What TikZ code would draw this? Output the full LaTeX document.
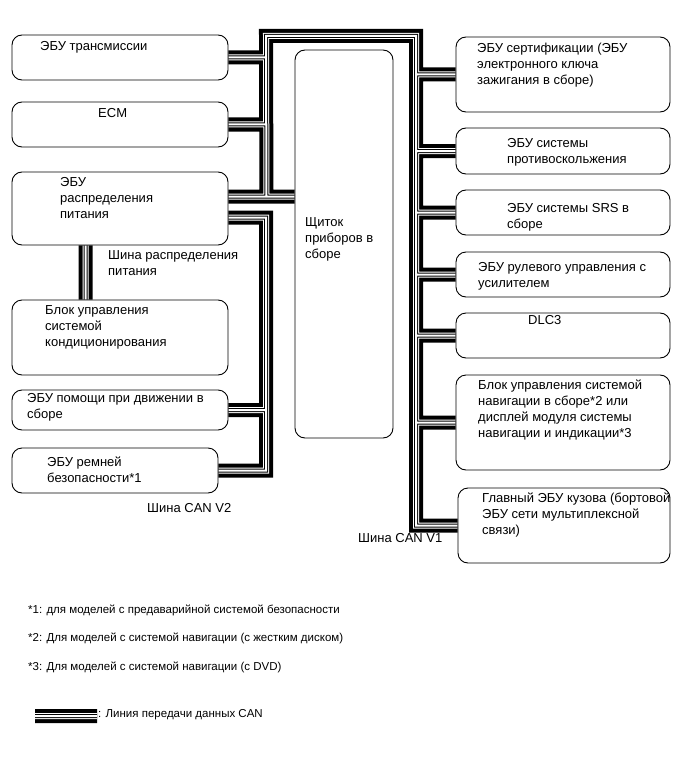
\documentclass[tikz,border=0pt]{standalone}
\usepackage{fontspec}
\setmainfont{Liberation Sans}
\usetikzlibrary{calc}
\pgfdeclarelayer{bus}
\pgfsetlayers{bus,main}
\tikzset{
  ecu/.style={draw, rounded corners=10pt, line width=0.9pt, inner sep=0pt},
  txt/.style={anchor=base west, inner sep=0pt, align=left, font=\fontsize{13}{16}\selectfont},
  note/.style={anchor=base west, inner sep=0pt, font=\fontsize{11.5}{13}\selectfont},
}
\newcommand{\canbus}{
  (pw1) -- (pw1 -| meter.west)
  (lb) -- (lt) -- (rt) -- (rb) -- (body.west)
  (trans.east) -- (trans.east -| lt)
  (ecm.east) -- (ecm.east -| lt)
  (pw2) -- (pw2 -| lt) -- (belt.east -| lt) -- (belt.east)
  (assist.east) -- (assist.east -| lt)
  (cert.west) -- (cert.west -| rt)
  (skid.west) -- (skid.west -| rt)
  (srs.west) -- (srs.west -| rt)
  (steer.west) -- (steer.west -| rt)
  (dlc.west) -- (dlc.west -| rt)
  (nav.west) -- (nav.west -| rt)
  (power.south -| pb) -- (ac.north -| pb)
  (lg1) -- (lg2)
}
\begin{document}
\begin{tikzpicture}[x=1pt, y=-1pt]
\useasboundingbox (0,0) rectangle (691,757);

\node[ecu, minimum width=216pt, minimum height=45pt] (trans) at (120,57.5) {};
\node[ecu, minimum width=216pt, minimum height=45pt] (ecm) at (120,124.5) {};
\node[ecu, minimum width=216pt, minimum height=73pt] (power) at (120,208.5) {};
\node[ecu, minimum width=216pt, minimum height=75pt] (ac) at (120,337.5) {};
\node[ecu, minimum width=216pt, minimum height=40pt] (assist) at (120,410) {};
\node[ecu, minimum width=206pt, minimum height=45pt] (belt) at (115,470.5) {};
\node[ecu, minimum width=98pt, minimum height=388pt] (meter) at (344,244) {};
\node[ecu, minimum width=214pt, minimum height=75pt] (cert) at (563,74.5) {};
\node[ecu, minimum width=214pt, minimum height=46pt] (skid) at (563,151) {};
\node[ecu, minimum width=214pt, minimum height=45pt] (srs) at (563,212.5) {};
\node[ecu, minimum width=214pt, minimum height=45pt] (steer) at (563,274.5) {};
\node[ecu, minimum width=214pt, minimum height=45pt] (dlc) at (563,335.5) {};
\node[ecu, minimum width=214pt, minimum height=95pt] (nav) at (563,422.5) {};
\node[ecu, minimum width=212pt, minimum height=75pt] (body) at (564,525.5) {};

\node[txt] (transtxt) at (40,50.5) {ЭБУ трансмиссии};
\node[txt] (ecmtxt) at (98,117.5) {ECM};
\node[txt] (powertxt) at (60,218) {ЭБУ\\распределения\\питания};
\node[txt] (actxt) at (45,346.5) {Блок управления\\системой\\кондиционирования};
\node[txt] (assisttxt) at (27,418.5) {ЭБУ помощи при движении в\\сборе};
\node[txt] (belttxt) at (47,482) {ЭБУ ремней\\безопасности*1};
\node[txt] (metertxt) at (305,258.5) {Щиток\\приборов в\\сборе};
\node[txt] (certtxt) at (477,84.5) {ЭБУ сертификации (ЭБУ\\электронного ключа\\зажигания в сборе)};
\node[txt] (skidtxt) at (507,163.5) {ЭБУ системы\\противоскольжения};
\node[txt] (srstxt) at (507,228.5) {ЭБУ системы SRS в\\сборе};
\node[txt] (steertxt) at (478,287.5) {ЭБУ рулевого управления с\\усилителем};
\node[txt] (dlctxt) at (528,324.5) {DLC3};
\node[txt] (navtxt) at (478,437.5) {Блок управления системой\\навигации в сборе*2 или\\дисплей модуля системы\\навигации и индикации*3};
\node[txt] (bodytxt) at (482,534.5) {Главный ЭБУ кузова (бортовой\\ЭБУ сети мультиплексной\\связи)};

\node[txt] (pwrbus) at (108,275.5) {Шина распределения\\питания};
\node[txt] (v2) at (147,512.5) {Шина CAN V2};
\node[txt] (v1) at (358,542.5) {Шина CAN V1};

\node[note] (note1) at (28,613.5) {*1: для моделей с предаварийной системой безопасности};
\node[note] (note2) at (28,641.5) {*2: Для моделей с системой навигации (с жестким диском)};
\node[note] (note3) at (28,670.5) {*3: Для моделей с системой навигации (с DVD)};
\node[note] (legtxt) at (98,717.5) {: Линия передачи данных CAN};

\coordinate (lt) at (266,36);
\coordinate (rt) at (416,36);
\coordinate (rb) at (body.west -| rt);
\coordinate (lb) at ($(power.north east)+(38,25)$);
\coordinate (pw1) at ($(power.north east)+(0,25)$);
\coordinate (pw2) at ($(power.north east)+(0,46)$);
\coordinate (pb) at ($(power.south west)+(74,0)$);
\coordinate (lg1) at (35,716);
\coordinate (lg2) at (97,716);

\begin{pgfonlayer}{bus}
\draw[line width=14pt] \canbus;
\draw[line width=6pt, white] \canbus;
\draw[line width=4pt] \canbus;
\draw[line width=2pt, white] \canbus;
\end{pgfonlayer}
\end{tikzpicture}
\end{document}
